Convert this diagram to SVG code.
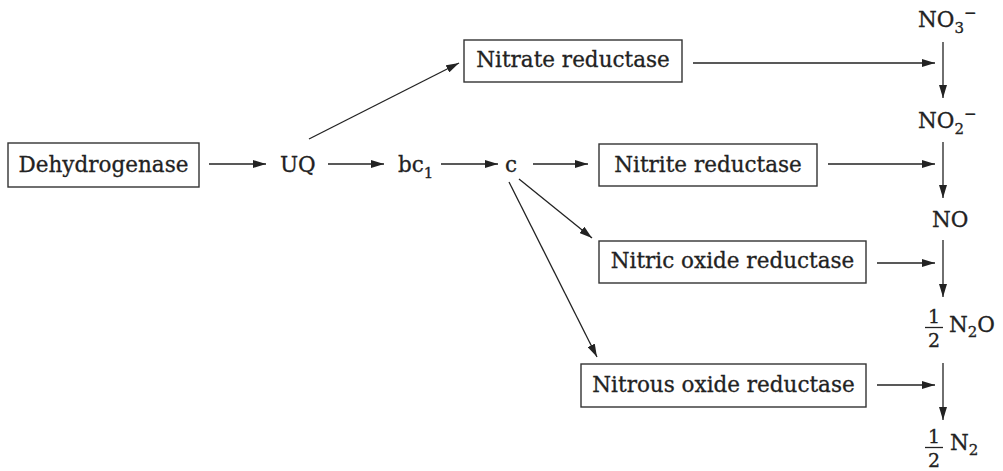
<svg xmlns="http://www.w3.org/2000/svg" width="1003" height="471" viewBox="0 0 1003 471">
<defs>
<marker id="ah" viewBox="0 0 13 8" refX="13" refY="4" markerWidth="13" markerHeight="8" markerUnits="userSpaceOnUse" orient="auto">
<path d="M0,0 L13,4 L0,8 Z" fill="#222"/>
</marker>
</defs>
<style>
text{font-family:"DejaVu Serif","Liberation Serif",serif;font-size:21.5px;fill:#222;stroke:#222;stroke-width:0.3}
.box{fill:#fff;stroke:#333;stroke-width:1.4}
.lab{text-anchor:middle}
.sub{font-size:15px}
.frac{font-size:19px}
.bar{stroke:#222;stroke-width:1.3}
#connectors line{stroke:#222;stroke-width:1.3;marker-end:url(#ah)}
</style>
<rect width="1003" height="471" fill="#fff"/>
<g id="dehydrogenase"><rect class="box" x="8" y="143" width="191" height="44"/><text class="lab" x="103.5" y="172">Dehydrogenase</text></g>
<g id="uq"><text x="280" y="172">UQ</text></g>
<g id="bc1"><text x="398" y="172">bc<tspan class="sub" dy="6">1</tspan></text></g>
<g id="c"><text x="505" y="172">c</text></g>
<g id="nitrate-reductase"><rect class="box" x="464" y="40" width="218" height="42"/><text class="lab" x="573" y="67">Nitrate reductase</text></g>
<g id="nitrite-reductase"><rect class="box" x="599" y="144" width="218" height="42"/><text class="lab" x="708" y="172">Nitrite reductase</text></g>
<g id="nitric-oxide-reductase"><rect class="box" x="599" y="241" width="267" height="42"/><text class="lab" x="732.5" y="268">Nitric oxide reductase</text></g>
<g id="nitrous-oxide-reductase"><rect class="box" x="581" y="364" width="285" height="43"/><text class="lab" x="723.5" y="392">Nitrous oxide reductase</text></g>
<g id="no3"><text x="918" y="27">NO<tspan class="sub" dy="6">3</tspan><tspan class="sub" dy="-15">−</tspan></text></g>
<g id="no2"><text x="918" y="128">NO<tspan class="sub" dy="6">2</tspan><tspan class="sub" dy="-15">−</tspan></text></g>
<g id="no"><text x="932" y="227">NO</text></g>
<g id="n2o"><text class="lab frac" x="934" y="323">1</text><line class="bar" x1="925" y1="327.5" x2="943" y2="327.5"/><text class="lab frac" x="934" y="347">2</text><text x="949" y="332">N<tspan class="sub" dy="5">2</tspan><tspan dy="-5">O</tspan></text></g>
<g id="n2"><text class="lab frac" x="934" y="443">1</text><line class="bar" x1="925" y1="447.5" x2="943" y2="447.5"/><text class="lab frac" x="934" y="467">2</text><text x="950" y="450">N<tspan class="sub" dy="5">2</tspan></text></g>
<g id="connectors">
<line x1="209" y1="164" x2="266" y2="164"/>
<line x1="328" y1="164" x2="384" y2="164"/>
<line x1="441" y1="164" x2="498" y2="164"/>
<line x1="533" y1="164" x2="588" y2="164"/>
<line x1="309" y1="139" x2="459" y2="63"/>
<line x1="519" y1="179" x2="592" y2="238"/>
<line x1="509" y1="182" x2="597" y2="357"/>
<line x1="693" y1="63" x2="935" y2="63"/>
<line x1="828" y1="164" x2="935" y2="164"/>
<line x1="877" y1="263" x2="935" y2="263"/>
<line x1="877" y1="385" x2="935" y2="385"/>
<line x1="943" y1="42" x2="943" y2="98"/>
<line x1="943" y1="142" x2="943" y2="198"/>
<line x1="943" y1="240" x2="943" y2="297"/>
<line x1="943" y1="363" x2="943" y2="420"/>
</g>
</svg>
